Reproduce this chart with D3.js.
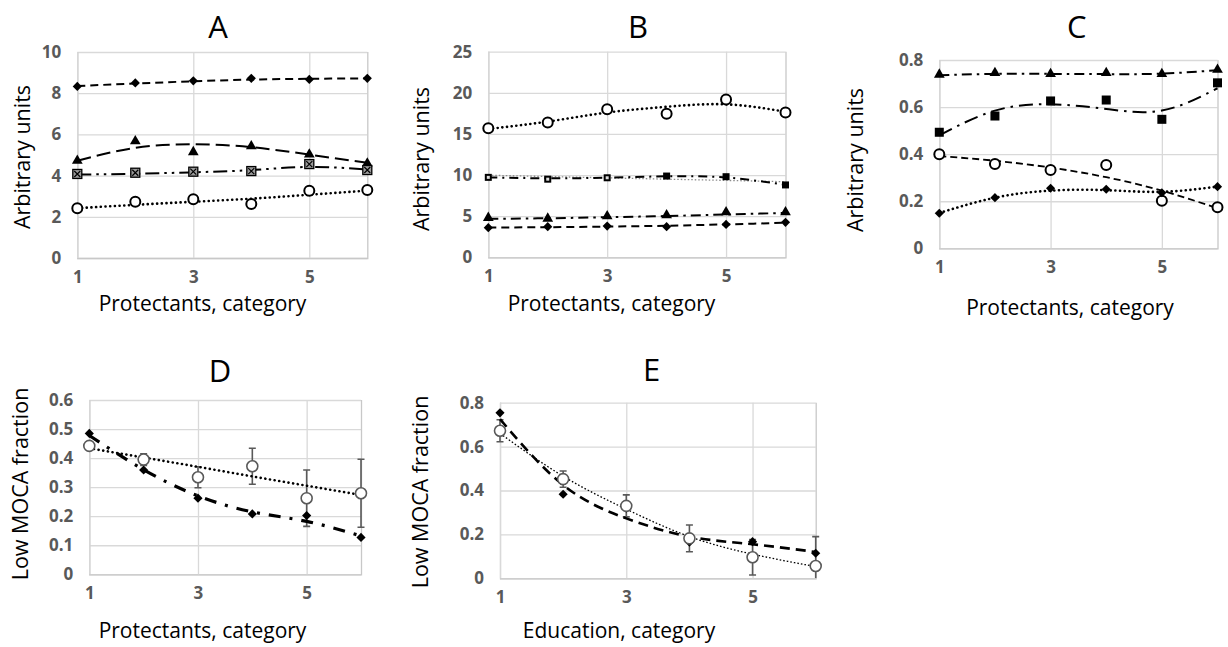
<!DOCTYPE html>
<html>
<head>
<meta charset="utf-8">
<script src="https://cdn.jsdelivr.net/npm/d3@7"></script>
<style>
  html, body { margin: 0; padding: 0; background: #fff; }
  svg { display: block; font-family: "Open Sans", "Noto Sans", sans-serif; }
</style>
</head>
<body>
<svg id="canvas" width="1228" height="647"></svg>
<script>
const categories = [1, 2, 3, 4, 5, 6]
const xTicks = [1, 3, 5]

// panel A
const aDiamond = [8.33, 8.5, 8.6, 8.72, 8.67, 8.72]
const aDiamondFit = [8.35, 8.47, 8.58, 8.66, 8.7, 8.72]
const aTriangle = [4.7, 5.65, 5.12, 5.4, 5.0, 4.57]
const aTriangleFit = [4.72, 5.35, 5.52, 5.38, 5.02, 4.62]
const aSquare = [4.08, 4.14, 4.19, 4.22, 4.56, 4.27]
const aSquareFit = [4.05, 4.09, 4.16, 4.27, 4.42, 4.3]
const aCircle = [2.41, 2.73, 2.85, 2.62, 3.27, 3.3]
const aCircleFit = [2.42, 2.58, 2.73, 2.88, 3.07, 3.27]
const aYTicks = [0, 2, 4, 6, 8, 10]

// panel B
const bCircle = [15.7, 16.4, 18.0, 17.45, 19.2, 17.6]
const bCircleFit = [15.6, 16.5, 17.6, 18.3, 18.6, 17.7]
const bSquare = [9.72, 9.5, 9.67, 9.88, 9.8, 8.8]
const bSquareFit = [9.72, 9.6, 9.68, 9.85, 9.7, 8.82]
const bSquareLinear = [9.98, 9.82, 9.66, 9.5, 9.35, 9.19]
const bTriangle = [4.74, 4.65, 4.93, 5.05, 5.42, 5.42]
const bTriangleFit = [4.68, 4.75, 4.87, 5.02, 5.2, 5.4]
const bDiamond = [3.6, 3.72, 3.8, 3.72, 4.0, 4.25]
const bDiamondFit = [3.62, 3.66, 3.73, 3.84, 4.0, 4.2]
const bYTicks = [0, 5, 10, 15, 20, 25]

// panel C
const cTriangle = [0.736, 0.743, 0.739, 0.743, 0.739, 0.757]
const cTriangleFit = [0.735, 0.741, 0.741, 0.74, 0.742, 0.757]
const cSquare = [0.493, 0.562, 0.626, 0.63, 0.548, 0.703]
const cSquareFit = [0.48, 0.585, 0.612, 0.592, 0.585, 0.68]
const cCircle = [0.40, 0.358, 0.333, 0.354, 0.202, 0.174]
const cCircleFit = [0.392, 0.372, 0.343, 0.302, 0.245, 0.17]
const cDiamond = [0.149, 0.215, 0.255, 0.251, 0.236, 0.262]
const cDiamondFit = [0.15, 0.215, 0.245, 0.247, 0.24, 0.262]
const cYTicks = [0, 0.2, 0.4, 0.6, 0.8]

// panel D
const dCircle = [0.442, 0.395, 0.334, 0.372, 0.262, 0.279]
const dCircleErr = [0.005, 0.02, 0.036, 0.062, 0.097, 0.117]
const dCircleFit = [0.434, 0.402, 0.37, 0.337, 0.305, 0.273]
const dDiamond = [0.485, 0.359, 0.262, 0.208, 0.202, 0.127]
const dDiamondFit = [0.478, 0.36, 0.27, 0.215, 0.182, 0.132]
const dYTicks = [0, 0.1, 0.2, 0.3, 0.4, 0.5, 0.6]

// panel E
const eCircle = [0.672, 0.452, 0.33, 0.182, 0.096, 0.056]
const eCircleErr = [0.05, 0.037, 0.05, 0.061, 0.081, 0.134]
const eCircleFit = [0.66, 0.465, 0.315, 0.19, 0.11, 0.053]
const eDiamond = [0.754, 0.383, 0.32, 0.165, 0.167, 0.114]
const eDiamondFit = [0.725, 0.425, 0.273, 0.19, 0.155, 0.12]
const eYTicks = [0, 0.2, 0.4, 0.6, 0.8]

let canvas = d3.select('#canvas')

let roundDot = {dash: '0.1,4.6', width: 2.6, cap: 'round'}
let decimal = d => d === 0 ? '0' : d3.format('.1f')(d)

let panels = [
  {
    title: 'A', yTitle: 'Arbitrary units', xTitle: 'Protectants, category',
    x0: 77.3, x1: 367.3, yTop: 52, yBot: 258, yTicks: aYTicks, fmt: d3.format('d'),
    titleX: 218, titleY: 38, yTitleX: 22, yTitleY: 157, xTitleX: 202.5, xTitleY: 311,
    series: [
      {vals: aDiamond, fits: [{vals: aDiamondFit, dash: '8,5', width: 2}], marker: 'diamond'},
      {vals: aTriangle, fits: [{vals: aTriangleFit, dash: '14,6', width: 2}], marker: 'triangle'},
      {vals: aSquare, fits: [{vals: aSquareFit, dash: '14,5,2.5,5,2.5,5', width: 2}], marker: 'xsquare'},
      {vals: aCircle, fits: [{vals: aCircleFit, ...roundDot}], marker: 'circle'}
    ]
  },
  {
    title: 'B', yTitle: 'Arbitrary units', xTitle: 'Protectants, category',
    x0: 488.3, x1: 785.5, yTop: 51.7, yBot: 257.3, yTicks: bYTicks, fmt: d3.format('d'),
    titleX: 638, titleY: 38, yTitleX: 421.7, yTitleY: 159, xTitleX: 611.5, xTitleY: 311,
    series: [
      {vals: bCircle, fits: [{vals: bCircleFit, ...roundDot}], marker: 'circle'},
      {vals: bSquare, fits: [
        {vals: bSquareLinear, dash: '1.5,2', width: 1.3, color: '#8c8c8c', linear: true},
        {vals: bSquareFit, dash: '9,5,2,5', width: 2}
      ], marker: 'smallsquare', hollow: [true, true, true, false, false, false]},
      {vals: bTriangle, fits: [{vals: bTriangleFit, dash: '10,5,2.5,5', width: 2}], marker: 'triangle'},
      {vals: bDiamond, fits: [{vals: bDiamondFit, dash: '8,5', width: 2}], marker: 'diamond'}
    ]
  },
  {
    title: 'C', yTitle: 'Arbitrary units', xTitle: 'Protectants, category',
    x0: 939.3, x1: 1217.5, yTop: 60, yBot: 248.3, yTicks: cYTicks, fmt: decimal,
    titleX: 1076.7, titleY: 38, yTitleX: 855, yTitleY: 160, xTitleX: 1070, xTitleY: 315,
    series: [
      {vals: cTriangle, fits: [{vals: cTriangleFit, dash: '10,5,2.5,5', width: 2}], marker: 'triangle'},
      {vals: cSquare, fits: [{vals: cSquareFit, dash: '14,6,2.5,6', width: 2}], marker: 'square'},
      {vals: cCircle, fits: [{vals: cCircleFit, dash: '7,4', width: 1.8}], marker: 'circle'},
      {vals: cDiamond, fits: [{vals: cDiamondFit, ...roundDot}], marker: 'diamond'}
    ]
  },
  {
    title: 'D', yTitle: 'Low MOCA fraction', xTitle: 'Protectants, category',
    x0: 89.3, x1: 361, yTop: 400, yBot: 574.3, yTicks: dYTicks, fmt: decimal,
    titleX: 220, titleY: 382, yTitleX: 20, yTitleY: 484, xTitleX: 202.5, xTitleY: 638,
    series: [
      {vals: dDiamond, fits: [{vals: dDiamondFit, dash: '12,9,3,9', width: 3.2}], marker: 'diamond'},
      {vals: dCircle, err: dCircleErr, fits: [{vals: dCircleFit, ...roundDot}], marker: 'graycircle'}
    ]
  },
  {
    title: 'E', yTitle: 'Low MOCA fraction', xTitle: 'Education, category',
    x0: 500, x1: 815.7, yTop: 402.7, yBot: 578.3, yTicks: eYTicks, fmt: decimal,
    titleX: 651.7, titleY: 381, yTitleX: 420, yTitleY: 492, xTitleX: 619, xTitleY: 638,
    series: [
      {vals: eDiamond, fits: [{vals: eDiamondFit, dash: '10,6', width: 2.6}], marker: 'diamond'},
      {vals: eCircle, err: eCircleErr, fits: [{vals: eCircleFit, dash: '1.6,2', width: 1.3}], marker: 'graycircle'}
    ]
  }
]

let drawMarker = (g, type, cx, cy, hollow) => {
  if (type === 'circle') {
    g.append('circle').attr('cx', cx).attr('cy', cy).attr('r', 5)
      .attr('fill', '#fff').attr('stroke', '#000').attr('stroke-width', 2)
  } else if (type === 'graycircle') {
    g.append('circle').attr('cx', cx).attr('cy', cy).attr('r', 5.5)
      .attr('fill', '#fff').attr('stroke', '#595959').attr('stroke-width', 1.6)
  } else if (type === 'diamond') {
    g.append('path').attr('d', d3.symbol(d3.symbolSquare, 42)())
      .attr('transform', 'translate(' + cx + ',' + cy + ') rotate(45)').attr('fill', '#000')
  } else if (type === 'triangle') {
    g.append('path').attr('d', d3.symbol(d3.symbolTriangle, 50)())
      .attr('transform', 'translate(' + cx + ',' + (cy - 0.5) + ')').attr('fill', '#000')
  } else if (type === 'square') {
    g.append('rect').attr('x', cx - 4.5).attr('y', cy - 4.5).attr('width', 9).attr('height', 9).attr('fill', '#000')
  } else if (type === 'smallsquare') {
    g.append('rect').attr('x', cx - 3.5).attr('y', cy - 3.5).attr('width', 7).attr('height', 7).attr('fill', '#000')
    if (hollow) {
      g.append('rect').attr('x', cx - 1.5).attr('y', cy - 1.5).attr('width', 3).attr('height', 3).attr('fill', '#ddd')
    }
  } else if (type === 'xsquare') {
    g.append('rect').attr('x', cx - 4.5).attr('y', cy - 4.5).attr('width', 9).attr('height', 9)
      .attr('fill', '#9a9a9a').attr('stroke', '#000').attr('stroke-width', 1.3)
    g.append('path').attr('d', 'M' + (cx - 3) + ',' + (cy - 3) + 'L' + (cx + 3) + ',' + (cy + 3) +
      'M' + (cx + 3) + ',' + (cy - 3) + 'L' + (cx - 3) + ',' + (cy + 3))
      .attr('stroke', '#000').attr('stroke-width', 1.2)
  }
}

let drawPanel = (p) => {
  let x = d3.scaleLinear().domain([1, 6]).range([p.x0, p.x1])
  let yMax = p.yTicks[p.yTicks.length - 1]
  let y = d3.scaleLinear().domain([0, yMax]).range([p.yBot, p.yTop])
  let g = canvas.append('g')

  let clipId = 'clip' + p.title
  canvas.append('clipPath').attr('id', clipId)
    .append('rect').attr('x', p.x0 - 8).attr('y', p.yTop - 8)
    .attr('width', p.x1 - p.x0 + 16).attr('height', p.yBot - p.yTop + 8)

  // horizontal gridlines + y labels
  let yAxis = g.append('g').attr('transform', 'translate(' + p.x0 + ',0)')
    .call(d3.axisLeft(y).tickValues(p.yTicks).tickFormat(p.fmt)
      .tickSize(-(p.x1 - p.x0)).tickPadding(16))
  yAxis.select('.domain').remove()
  yAxis.selectAll('line').attr('stroke', '#d9d9d9').attr('stroke-width', 1.3)
  yAxis.selectAll('text').attr('fill', '#595959').attr('font-size', 17).attr('font-weight', 'bold')
    .attr('font-family', '"Open Sans", sans-serif')

  // vertical gridlines + x labels
  let xAxis = g.append('g').attr('transform', 'translate(0,' + p.yBot + ')')
    .call(d3.axisBottom(x).tickValues(xTicks).tickFormat(d3.format('d'))
      .tickSize(-(p.yBot - p.yTop)).tickPadding(13))
  xAxis.select('.domain').attr('stroke', '#c8c8c8').attr('stroke-width', 1.3)
  xAxis.selectAll('line').attr('stroke', '#d9d9d9').attr('stroke-width', 1.3)
  xAxis.selectAll('text').attr('fill', '#595959').attr('font-size', 17).attr('font-weight', 'bold')
    .attr('font-family', '"Open Sans", sans-serif')

  // titles
  g.append('text').attr('x', p.titleX).attr('y', p.titleY).attr('text-anchor', 'middle')
    .attr('font-size', 31).attr('fill', '#000').text(p.title)
  g.append('text').attr('transform', 'translate(' + p.yTitleX + ',' + p.yTitleY + ') rotate(-90)')
    .attr('text-anchor', 'middle').attr('dy', '0.35em').attr('font-size', 21.5).attr('fill', '#000')
    .text(p.yTitle)
  g.append('text').attr('x', p.xTitleX).attr('y', p.xTitleY).attr('text-anchor', 'middle')
    .attr('font-size', 21).attr('fill', '#000').text(p.xTitle)

  let plot = g.append('g').attr('clip-path', 'url(#' + clipId + ')')

  p.series.forEach((s) => {
    // error bars
    if (s.err) {
      s.vals.forEach((v, i) => {
        let cx = x(categories[i])
        let top = y(v + s.err[i])
        let bot = y(Math.max(0, v - s.err[i]))
        plot.append('line').attr('x1', cx).attr('x2', cx).attr('y1', top).attr('y2', bot)
          .attr('stroke', '#595959').attr('stroke-width', 1.6)
        plot.append('line').attr('x1', cx - 3.5).attr('x2', cx + 3.5).attr('y1', top).attr('y2', top)
          .attr('stroke', '#595959').attr('stroke-width', 1.6)
        if (v - s.err[i] > 0) {
          plot.append('line').attr('x1', cx - 3.5).attr('x2', cx + 3.5).attr('y1', bot).attr('y2', bot)
            .attr('stroke', '#595959').attr('stroke-width', 1.6)
        }
      })
    }
  })

  p.series.forEach((s) => {
    s.fits.forEach((f) => {
      let line = d3.line()
        .x((d, i) => x(categories[i]))
        .y((d) => y(d))
        .curve(f.linear ? d3.curveLinear : d3.curveNatural)
      plot.append('path').attr('d', line(f.vals))
        .attr('fill', 'none')
        .attr('stroke', f.color || '#000')
        .attr('stroke-width', f.width)
        .attr('stroke-dasharray', f.dash)
        .attr('stroke-linecap', f.cap || 'butt')
    })
  })

  p.series.forEach((s) => {
    s.vals.forEach((v, i) => {
      drawMarker(plot, s.marker, x(categories[i]), y(v), s.hollow ? s.hollow[i] : false)
    })
  })
}

panels.forEach(drawPanel)
</script>
</body>
</html>
